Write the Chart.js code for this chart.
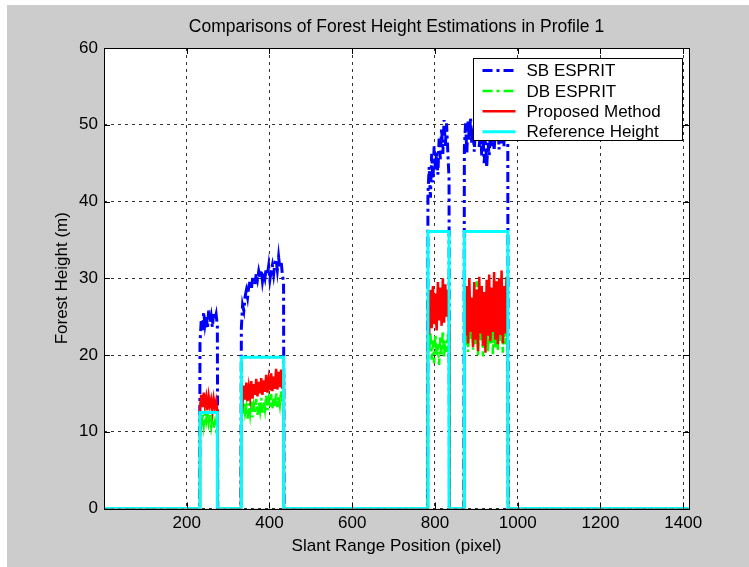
<!DOCTYPE html>
<html>
<head>
<meta charset="utf-8">
<script src="https://cdn.jsdelivr.net/npm/chart.js@4.4.0/dist/chart.umd.min.js"></script>
<style>
  html, body { margin: 0; padding: 0; background: #fff; }
  canvas { display: block; }
</style>
</head>
<body>
<canvas id="chart" width="749" height="567"></canvas>
<script>
// Profile data (x = slant range pixel, y = forest height in m)
const xMin = 0;
const xMax = 1414;
const xStep = 3;
const xTicks = [200, 400, 600, 800, 1000, 1200, 1400];
const yTicks = [0, 10, 20, 30, 40, 50, 60];

// forest stands along the profile
const blockStart = [232, 332, 783, 871];
const blockEnd = [274, 434, 834, 976];
const refHeight = [12.5, 19.7, 36.1, 36.1];

// estimates inside each stand, one value every xStep pixels
const sbEsprit = [
    [21.5, 24.5, 23.2, 25.6, 24, 25.2, 23.4, 25.8, 24.3, 25.1, 23.6, 25.5, 24.6, 25.3, 23.8],
    [23.5, 26.5, 25.8, 27.6, 28.4, 27.5, 29, 29.6, 28.5, 29.9, 30.3, 29.2, 30.6, 29.8, 30.9, 30.1, 31.1, 29.6, 30.7, 30, 31.3, 30.4, 31.6, 29.8, 30.9, 31.7, 30.5, 31.9, 32.5, 31.1, 32.8, 31.3, 32.2, 30.6, 29.4],
    [41, 44.5, 40.5, 46.2, 42.5, 47.2, 44, 46.6, 43.5, 48.2, 45.5, 49.6, 46.2, 50.6, 47.2, 50.2, 46.5, 43],
    [47, 50.2, 46.2, 50.6, 48, 51, 47.5, 49.6, 46.5, 50.1, 48.2, 50.8, 47.1, 49.8, 46, 49.1, 45, 48.5, 44.4, 47.6, 46, 49.1, 47, 50, 46.6, 49.5, 47.8, 50.2, 46.8, 49.6, 47.5, 50, 47.2, 49, 48.2, 47.5]
];
const dbEsprit = [
    [11.8, 11, 12.3, 10.8, 12.4, 11.4, 12.6, 11.2, 12.2, 10.7, 11.9, 10.5, 11.3, 10.1, 9.2],
    [13.4, 12.1, 13.9, 12.4, 13.3, 11.7, 13.7, 12.3, 14.1, 11.9, 13.4, 12.5, 14.3, 12.2, 13.8, 12.7, 14.4, 12.5, 14, 12.9, 14.7, 12.8, 14.2, 13.1, 14.9, 13, 14.5, 13.3, 15.1, 13.2, 14.7, 13.5, 15.3, 13.7, 14.5],
    [22.4, 20.4, 23, 19.4, 21.9, 18.9, 22.7, 19.9, 21.4, 18.7, 22.5, 20.1, 23.2, 19.7, 21.9, 20.4, 22.7, 19.5],
    [24, 21, 26, 20.4, 25, 21.9, 27, 20.7, 24.5, 21.4, 29.6, 19.9, 25.4, 21.9, 26.5, 19.8, 24, 20.9, 26, 20.4, 25, 21.5, 27, 20.1, 26.2, 20.9, 25.4, 20.5, 27.5, 21.7, 26, 20.3, 24.8, 21.4, 25.5, 20.7]
];
const proposed = [
    [13.1, 14.8, 13.2, 15.1, 13.5, 14.5, 12.8, 14.6, 13.4, 14.2, 12.8, 14.3, 13.2, 14, 12.6],
    [15.2, 13.9, 16, 14.2, 16.4, 14, 15.8, 14.5, 16.6, 14.3, 16.2, 14.8, 16.9, 14.6, 16.5, 15, 17, 14.8, 16.7, 15.2, 17.4, 15.1, 16.8, 15.4, 17.6, 15.3, 17.2, 15.6, 18.2, 15.5, 17.8, 15.8, 18.1, 15.6, 17.5],
    [27, 22.6, 28.5, 23.5, 29, 24, 28, 23.2, 29.5, 24.5, 28.8, 23.8, 30, 24.2, 29.2, 25, 28.5, 24],
    [28, 22.5, 29, 21.5, 30, 23, 27.5, 21, 29.5, 22, 28.5, 20.5, 30.2, 22.8, 29, 21.2, 28.2, 20.3, 29.8, 22.5, 30.5, 21.8, 28.8, 23, 30.8, 22, 29.6, 21.4, 30, 22.6, 31, 21.5, 29, 22.8, 30.2, 21.2]
];

// ground (0) outside the stands, estimates inside
function profilePoints(blocks) {
    const pts = [{ x: xMin, y: 0 }];
    blocks.forEach((vals, b) => {
        pts.push({ x: blockStart[b] - 1, y: 0 });
        vals.forEach((v, i) => pts.push({ x: blockStart[b] + i * xStep, y: v }));
        pts.push({ x: blockEnd[b] + 1, y: 0 });
    });
    pts.push({ x: xMax, y: 0 });
    return pts;
}

function referencePoints() {
    const pts = [{ x: xMin, y: 0 }];
    refHeight.forEach((h, b) => {
        pts.push({ x: blockStart[b], y: 0 }, { x: blockStart[b], y: h });
        pts.push({ x: blockEnd[b], y: h }, { x: blockEnd[b], y: 0 });
    });
    pts.push({ x: xMax, y: 0 });
    return pts;
}

const FONT = "'Liberation Sans', Arial, Helvetica, sans-serif";
Chart.defaults.font.family = FONT;
Chart.defaults.font.size = 17;
Chart.defaults.color = '#000';

// gray figure background, white axes
const background = {
    id: 'background',
    beforeDraw(chart) {
        const { ctx, width, height, chartArea: a } = chart;
        ctx.save();
        ctx.fillStyle = '#fff';
        ctx.fillRect(0, 0, width, height);
        ctx.fillStyle = '#cccccc';
        ctx.fillRect(7, 5, width - 7, height - 5);
        ctx.fillStyle = '#fff';
        ctx.fillRect(a.left, a.top, a.right - a.left, a.bottom - a.top);
        ctx.restore();
    }
};

// axes box with inward tick marks, then boxed legend
const frameAndLegend = {
    id: 'frameAndLegend',
    afterDatasetsDraw(chart) {
        const { ctx, chartArea: a, scales } = chart;
        ctx.save();
        ctx.strokeStyle = '#000';
        ctx.lineWidth = 1;
        ctx.setLineDash([]);
        ctx.beginPath();
        scales.x.ticks.forEach(t => {
            const px = Math.round(scales.x.getPixelForValue(t.value)) + 0.5;
            ctx.moveTo(px, a.bottom); ctx.lineTo(px, a.bottom - 6);
            ctx.moveTo(px, a.top); ctx.lineTo(px, a.top + 6);
        });
        scales.y.ticks.forEach(t => {
            const py = Math.round(scales.y.getPixelForValue(t.value)) + 0.5;
            ctx.moveTo(a.left, py); ctx.lineTo(a.left + 6, py);
            ctx.moveTo(a.right, py); ctx.lineTo(a.right - 6, py);
        });
        ctx.stroke();
        ctx.strokeRect(Math.round(a.left) + 0.5, Math.round(a.top) + 0.5,
            Math.round(a.right - a.left), Math.round(a.bottom - a.top));

        // legend
        const lx = 473.5, ly = 58.5, lw = 209, lh = 82;
        ctx.fillStyle = '#fff';
        ctx.fillRect(lx, ly, lw, lh);
        ctx.strokeRect(lx, ly, lw, lh);
        ctx.font = '17px ' + FONT;
        ctx.textBaseline = 'middle';
        ctx.textAlign = 'left';
        chart.data.datasets.forEach((ds, i) => {
            const y = ly + 12 + i * 20.4;
            ctx.strokeStyle = ds.borderColor;
            ctx.lineWidth = ds.borderWidth;
            ctx.setLineDash(ds.borderDash || []);
            ctx.beginPath();
            ctx.moveTo(lx + 9, y);
            ctx.lineTo(lx + 42, y);
            ctx.stroke();
            ctx.fillStyle = '#000';
            ctx.fillText(ds.label, lx + 53, y + 1);
        });
        ctx.restore();
    }
};

new Chart(document.getElementById('chart'), {
    type: 'line',
    data: {
        datasets: [
            { label: 'SB ESPRIT', data: profilePoints(sbEsprit), borderColor: '#0000ff', borderWidth: 3, borderDash: [10, 4, 3, 4], order: 3 },
            { label: 'DB ESPRIT', data: profilePoints(dbEsprit), borderColor: '#00ff00', borderWidth: 2.5, borderDash: [10, 4, 3, 4], order: 2 },
            { label: 'Proposed Method', data: profilePoints(proposed), borderColor: '#ff0000', borderWidth: 2.5, order: 1 },
            { label: 'Reference Height', data: referencePoints(), borderColor: '#00ffff', borderWidth: 3, order: 0 }
        ]
    },
    options: {
        responsive: false,
        animation: false,
        devicePixelRatio: 1,
        datasets: { line: { pointRadius: 0, tension: 0, fill: false } },
        layout: { padding: { left: 0, right: 60, top: 0, bottom: 0 } },
        plugins: {
            legend: { display: false },
            tooltip: { enabled: false },
            title: {
                display: true,
                text: 'Comparisons of Forest Height Estimations in Profile 1',
                fullSize: false,
                color: '#000',
                font: { size: 17.5, weight: 'normal' },
                padding: { top: 17, bottom: 10 }
            }
        },
        scales: {
            x: {
                type: 'linear',
                min: xMin,
                max: xMax,
                afterBuildTicks: s => { s.ticks = xTicks.map(v => ({ value: v })); },
                ticks: { padding: 5, color: '#000', maxRotation: 0, callback: v => String(v) },
                grid: { color: '#333', lineWidth: 1, drawTicks: false },
                border: { display: false, dash: [3, 4] },
                title: { display: true, text: 'Slant Range Position (pixel)', color: '#000', padding: { top: 4, bottom: 10 } },
                afterFit: s => { s.height = 58.5; }
            },
            y: {
                min: 0,
                max: 60,
                afterBuildTicks: s => { s.ticks = yTicks.map(v => ({ value: v })); },
                ticks: { padding: 6, color: '#000', callback: v => String(v) },
                grid: { color: '#333', lineWidth: 1, drawTicks: false },
                border: { display: false, dash: [3, 4] },
                title: { display: true, text: 'Forest Height (m)', color: '#000', padding: { top: 52, bottom: 4 } },
                afterFit: s => { s.width = 104; }
            }
        }
    },
    plugins: [background, frameAndLegend]
});
</script>
</body>
</html>
